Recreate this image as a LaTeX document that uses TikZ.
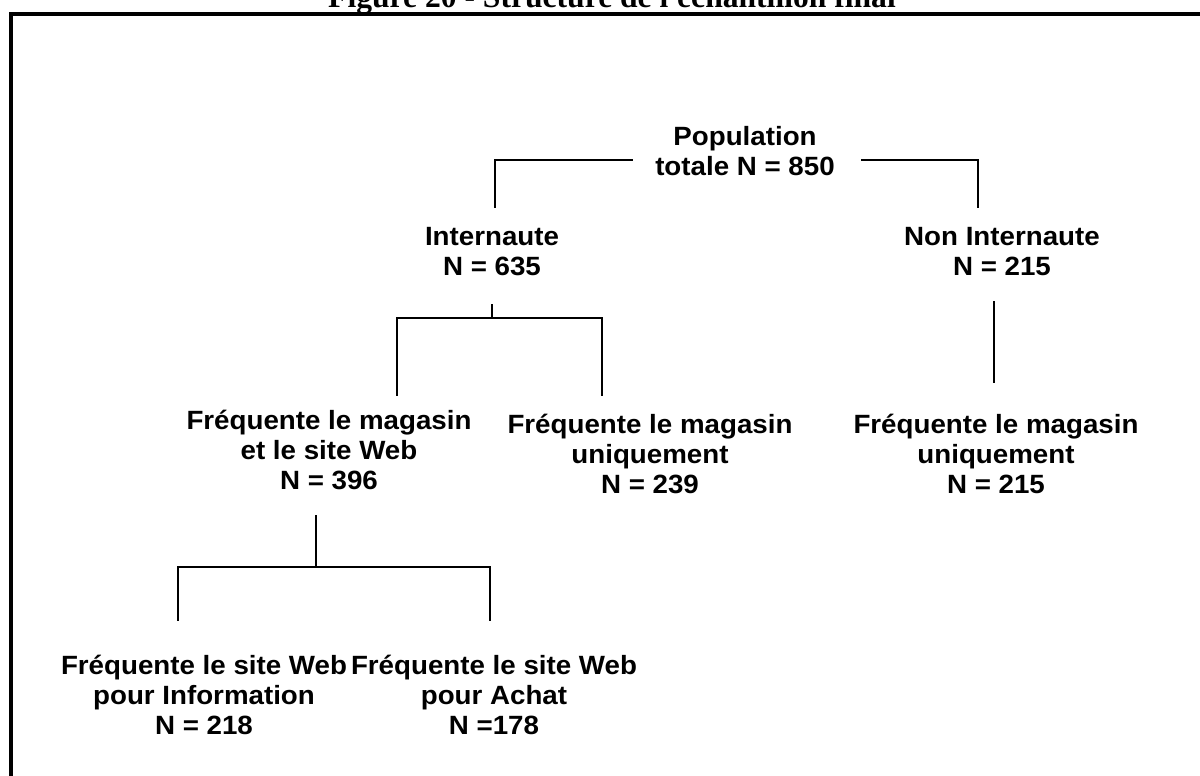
\documentclass[tikz,border=0pt]{standalone}
\usepackage{fontspec}
\setmainfont{Liberation Sans}[FakeStretch=1.05]
\newfontfamily\titlefont{Liberation Serif}
\usetikzlibrary{calc}
\begin{document}
\begin{tikzpicture}[x=0.5pt,y=-0.5pt,
  lbl/.style={anchor=north,align=center,inner sep=0pt,font=\fontsize{13.2}{15}\selectfont\bfseries},
  conn/.style={line width=1pt,line cap=rect},
  frame/.style={line width=2pt}]
\clip (0,0) rectangle (1200,776);
\fill[white] (0,0) rectangle (1200,776);
% title (cut off by the page edge, as in the reference)
\node[anchor=base,inner sep=0pt,font=\fontsize{15.8}{18}\selectfont\titlefont\bfseries] (title) at (612,8) {Figure 20 - Structure de l'échantillon final};
% frame
\draw[frame] (11,820) -- (11,14) -- (1240,14);
% nodes
\node[lbl] (pop) at (745,126) {Population\\totale N = 850};
\node[lbl] (inter) at (492,227) {Internaute\\N = 635};
\node[lbl] (non) at (1002,227) {Non Internaute\\N = 215};
\node[lbl] (both) at (329,410) {Fréquente le magasin\\et le site Web\\N = 396};
\node[lbl] (mag1) at (650,414) {Fréquente le magasin\\uniquement\\N = 239};
\node[lbl] (mag2) at (996,414) {Fréquente le magasin\\uniquement\\N = 215};
\node[lbl] (info) at (204,655) {Fréquente le site Web\\pour Information\\N = 218};
\node[lbl] (achat) at (494,655) {Fréquente le site Web\\pour Achat\\N =178};
% free ends
\coordinate (popL) at (632,160);
\coordinate (popR) at (862,160);
\coordinate (interTop) at (495,207);
\coordinate (nonTop) at (978,207);
\coordinate (interBot) at (492,305);
\coordinate (interBus) at (492,318);
\coordinate (bothTop) at (397,395);
\coordinate (mag1Top) at (602,395);
\coordinate (nonBot) at (994,302);
\coordinate (mag2Top) at (994,382);
\coordinate (bothBot) at (316,516);
\coordinate (bothBus) at (316,567);
\coordinate (infoTop) at (178,620);
\coordinate (achatTop) at (490,620);
% connectors
\draw[conn] (popL) -| (interTop);
\draw[conn] (popR) -| (nonTop);
\draw[conn] (interBot) -- (interBus);
\draw[conn] (bothTop) |- (interBus) -| (mag1Top);
\draw[conn] (nonBot) -- (mag2Top);
\draw[conn] (bothBot) -- (bothBus);
\draw[conn] (infoTop) |- (bothBus) -| (achatTop);
\end{tikzpicture}
\end{document}
